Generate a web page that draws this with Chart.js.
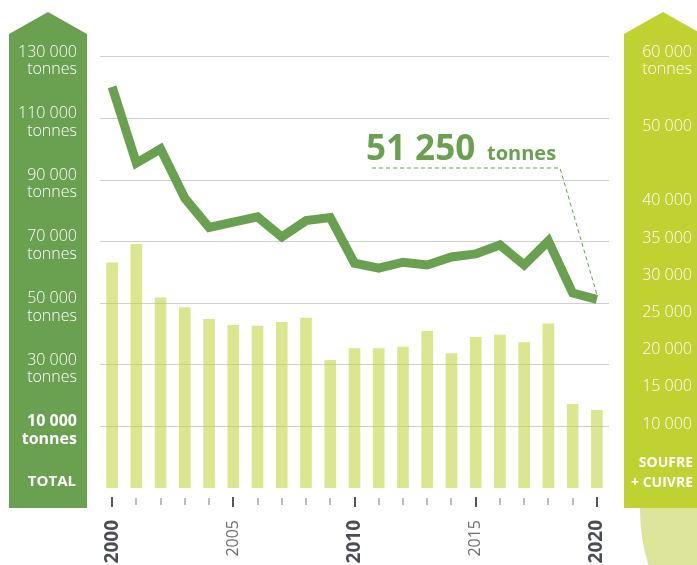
<!DOCTYPE html>
<html>
<head>
<meta charset="utf-8">
<script src="https://cdn.jsdelivr.net/npm/chart.js@4.4.1/dist/chart.umd.min.js"></script>
<style>
  html, body { margin: 0; padding: 0; background: #fff; }
  #wrap { width: 697px; height: 565px; }
</style>
</head>
<body>
<div id="wrap"><canvas id="phytoChart" width="697" height="565"></canvas></div>
<script>
  // data
  const years = ['2000', '2001', '2002', '2003', '2004', '2005', '2006', '2007', '2008', '2009', '2010',
    '2011', '2012', '2013', '2014', '2015', '2016', '2017', '2018', '2019', '2020'];
  const totalTonnes = [120200, 95500, 100100, 84100, 74600, 76300, 78000, 71500, 76800, 77800, 63000,
    61400, 63300, 62400, 65000, 66000, 68900, 62400, 70200, 53300, 51250];
  const soufreCuivre = [31700, 34200, 27000, 25700, 24100, 23300, 23200, 23700, 24300, 18600, 20200,
    20200, 20400, 22500, 19500, 21700, 22000, 21000, 23500, 12700, 11900];
  const leftTicks = [10000, 30000, 50000, 70000, 90000, 110000, 130000];
  const rightTicks = [10000, 15000, 20000, 25000, 30000, 35000, 40000, 50000, 60000];
  const labeledYears = ['2000', '2005', '2010', '2015', '2020'];
  const boldYears = ['2000', '2010', '2020'];

  const FONT = "'Open Sans', 'DejaVu Sans', sans-serif";
  const darkGreen = '#6aa150';
  const lime = '#bfd232';

  function fmt(v) {
    return String(v).replace(/\B(?=(\d{3})+(?!\d))/g, ' ');
  }

  // keep the axis from pushing the plot area around
  function fixY(width) {
    return s => {
      s.width = width;
      s.paddingTop = 0;
      s.paddingBottom = 0;
    };
  }

  // background bands, arrows, extra labels, annotation
  const decorations = {
    id: 'decorations',
    beforeDraw(chart) {
      const c = chart.ctx;
      c.save();
      c.fillStyle = '#fff';
      c.fillRect(0, 0, chart.width, chart.height);

      // pale shape under the right band
      c.fillStyle = '#dde59d';
      c.beginPath();
      c.ellipse(760, 510, 120, 150, 0, 0, Math.PI * 2);
      c.fill();

      // left band
      c.fillStyle = darkGreen;
      c.beginPath();
      c.moveTo(9, 34); c.lineTo(48, 12); c.lineTo(87, 34); c.lineTo(87, 508); c.lineTo(9, 508);
      c.closePath();
      c.fill();

      // right band
      c.fillStyle = lime;
      c.beginPath();
      c.moveTo(624, 34); c.lineTo(663, 12); c.lineTo(702, 34); c.lineTo(702, 508); c.lineTo(624, 508);
      c.closePath();
      c.fill();
      c.restore();
    },
    afterDraw(chart) {
      const c = chart.ctx;
      const x = chart.scales.x;
      const yR = chart.scales.y2;
      c.save();

      // small tick marks under the bars
      years.forEach((yr, i) => {
        const px = Math.round(x.getPixelForValue(i));
        const major = labeledYears.includes(yr);
        c.strokeStyle = major ? '#55585c' : '#9a9a9a';
        c.lineWidth = major ? 2 : 1.3;
        c.beginPath();
        c.moveTo(px, major ? 497 : 498);
        c.lineTo(px, major ? 507 : 505);
        c.stroke();
      });

      c.fillStyle = '#fff';
      c.textAlign = 'right';
      c.textBaseline = 'middle';
      c.font = '300 16px ' + FONT;
      c.fillText('tonnes', 692, yR.getPixelForValue(60000) + 17);

      c.font = 'bold 15px ' + FONT;
      c.fillText('TOTAL', 76, 482);
      c.font = 'bold 14px ' + FONT;
      c.fillText('SOUFRE', 693, 463);
      c.fillText('+ CUIVRE', 693, 483);

      // annotation of the last value
      const meta = chart.getDatasetMeta(0);
      const last = meta.data[meta.data.length - 1];
      c.fillStyle = darkGreen;
      c.textAlign = 'left';
      c.textBaseline = 'alphabetic';
      c.font = 'bold 35px ' + FONT;
      c.fillText(fmt(totalTonnes[totalTonnes.length - 1]), 366, 160);
      c.font = 'bold 20px ' + FONT;
      c.fillText('tonnes', 487, 160);

      c.strokeStyle = darkGreen;
      c.lineWidth = 1;
      c.setLineDash([4, 3]);
      c.beginPath();
      c.moveTo(372, 168);
      c.lineTo(560, 168);
      c.lineTo(last.x, last.y - 5);
      c.stroke();
      c.restore();
    }
  };

  new Chart(document.getElementById('phytoChart'), {
    data: {
      labels: years,
      datasets: [{
        type: 'line',
        label: 'Total',
        data: totalTonnes,
        yAxisID: 'y',
        borderColor: darkGreen,
        borderWidth: 9,
        borderJoinStyle: 'miter',
        pointRadius: 0,
        tension: 0,
        order: 0
      }, {
        type: 'bar',
        label: 'Soufre + cuivre',
        data: soufreCuivre,
        yAxisID: 'y2',
        backgroundColor: 'rgba(191, 210, 50, 0.55)',
        barPercentage: 0.48,
        categoryPercentage: 1,
        order: 1
      }]
    },
    options: {
      responsive: false,
      animation: false,
      layout: { padding: { top: 26, right: 5, left: 0, bottom: 0 } },
      plugins: {
        legend: { display: false },
        tooltip: { enabled: false }
      },
      scales: {
        x: {
          type: 'category',
          offset: true,
          grid: { display: false },
          border: { display: false },
          afterFit: s => { s.height = 77; },
          ticks: {
            autoSkip: false,
            minRotation: 90,
            maxRotation: 90,
            padding: 24,
            callback: function (value) {
              const yr = this.getLabelForValue(value);
              return labeledYears.includes(yr) ? yr : '';
            },
            color: ctx => boldYears.includes(years[ctx.index]) ? '#4a4d52' : '#6d6e70',
            font: ctx => boldYears.includes(years[ctx.index])
              ? { family: FONT, size: 19, weight: 'bold' }
              : { family: FONT, size: 16, weight: 'normal' }
          }
        },
        y: {
          position: 'left',
          min: -10000,
          max: 140000,
          afterBuildTicks: s => { s.ticks = leftTicks.map(v => ({ value: v })); },
          afterFit: fixY(100),
          grid: { color: '#d0d0d0', lineWidth: 1, drawTicks: false },
          border: { display: false },
          ticks: {
            padding: 23,
            labelOffset: 4,
            color: '#fff',
            callback: v => [fmt(v), 'tonnes'],
            font: ctx => ctx.tick && ctx.tick.value === 10000
              ? { family: FONT, size: 16, weight: 'bold', lineHeight: 1.1 }
              : { family: FONT, size: 16, weight: '300', lineHeight: 1.1 }
          }
        },
        y2: {
          position: 'right',
          min: 1400,
          max: 63500,
          afterBuildTicks: s => { s.ticks = rightTicks.map(v => ({ value: v })); },
          afterFit: fixY(83),
          grid: { display: false },
          border: { display: false },
          ticks: {
            crossAlign: 'far',
            color: '#fff',
            callback: v => fmt(v),
            font: { family: FONT, size: 16, weight: '300' }
          }
        }
      }
    },
    plugins: [decorations]
  });
</script>
</body>
</html>
